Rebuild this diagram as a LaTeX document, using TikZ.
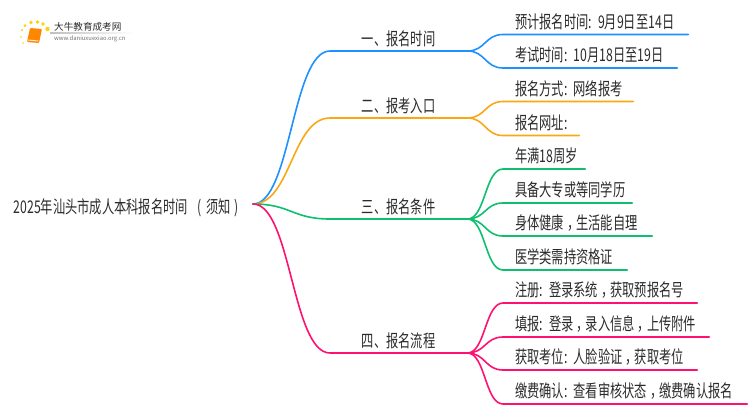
\documentclass[tikz,border=0pt]{standalone}
\usepackage{fontspec}
\setmainfont{Noto Sans CJK SC}
\newfontfamily\narrowcjk[FakeStretch=0.7, RawFeature={-chws;-halt;-palt}]{Noto Sans CJK SC}
\usetikzlibrary{calc}

\definecolor{branchblue}{HTML}{1E90FF}
\definecolor{branchorange}{HTML}{F9A814}
\definecolor{branchgreen}{HTML}{0DBF6E}
\definecolor{branchpink}{HTML}{FF1170}
\definecolor{labeltext}{HTML}{2B2B2B}
\newcommand{\shiftcomma}{\hspace{3pt}，\hspace{-3pt}}
\newcommand{\colongap}{:\hspace{6pt}}

\tikzset{
    rootnode/.style={font=\narrowcjk\fontsize{17.5}{17.5}\selectfont, text=labeltext, inner sep=0pt, text width=239pt, align=left, text height=18pt, text depth=0pt, anchor=east},
    midnode/.style={font=\narrowcjk\fontsize{17.5}{17.5}\selectfont, text=labeltext, inner xsep=0pt, inner ysep=1pt, minimum width=137pt, text height=14pt, text depth=4.5pt, anchor=south west},
    leafnode/.style={font=\narrowcjk\fontsize{17.5}{17.5}\selectfont, text=labeltext, inner xsep=0pt, inner ysep=1pt, align=left, text height=14pt, text depth=5pt, anchor=south west},
    bigcurve/.style={out=0, in=180, distance=38pt},
    smallcurve/.style={out=0, in=180, distance=18pt},
    branchline/.style={line width=1.6pt, line cap=round},
}

\begin{document}
\begin{tikzpicture}[x=1pt,y=-1pt]
    \useasboundingbox (0,0) rectangle (750,410);
    % logo
    \shade[left color=black!25, right color=white] (50,32.6) rectangle (134,33.6);
    \node[font=\fontsize{9.6}{10}\selectfont, text=labeltext, inner sep=0pt, anchor=west] (logoname) at (54,27) {大牛教育成考网};
    \node[font=\fontsize{5.9}{6}\selectfont, text=black!55, inner sep=0pt, anchor=west] (logourl) at (54,39) {www.daniuxuexiao.org.cn};
    \fill[orange!95!yellow, rounded corners=1pt] (30,28) -- (42,29) -- (39,43) -- (27,42) -- cycle;
    \fill[white!80!orange] (28.5,39.5) -- (38.5,40.5) -- (38,41.5) -- (28,40.5) -- cycle;
    \foreach \dotx/\doty/\dotr in {22/30/1.2, 25/25.5/1.5, 31/22.5/1.9, 37.5/22/1.9, 43/24/1.9, 47.5/29/2.2, 21/37/0.9, 23/43/0.8}
        \fill[yellow!70!orange] (\dotx,\doty) circle (\dotr);

    \node[rootnode] (root) at (253,204) {2025年汕头市成人本科报名时间\hspace{10pt}(\hspace{4pt}须知\hspace{4pt})};

    \node[midnode] (time) at (330,51) {一、报名时间};
    \node[midnode] (entry) at (330,118) {二、报考入口};
    \node[midnode] (cond) at (330,219) {三、报名条件};
    \node[midnode] (flow) at (330,353) {四、报名流程};

    \node[leafnode, text width=173pt] (time1) at (515,34.5) {预计报名时间\colongap 9月9日至14日};
    \node[leafnode, text width=162pt] (time2) at (515,68) {考试时间\colongap 10月18日至19日};
    \node[leafnode, text width=118pt] (entry1) at (515,101.5) {报名方式\colongap 网络报考};
    \node[leafnode, text width=64pt] (entry2) at (515,135.5) {报名网址:};
    \node[leafnode, text width=70pt] (cond1) at (515,169) {年满18周岁};
    \node[leafnode, text width=117pt] (cond2) at (515,203) {具备大专或等同学历};
    \node[leafnode, text width=137pt] (cond3) at (515,236) {身体健康\shiftcomma 生活能自理};
    \node[leafnode, text width=112pt] (cond4) at (515,270) {医学类需持资格证};
    \node[leafnode, text width=182pt] (flow1) at (515,303) {注册\colongap 登录系统\shiftcomma 获取预报名号};
    \node[leafnode, text width=194pt] (flow2) at (515,337) {填报\colongap 登录\shiftcomma 录入信息\shiftcomma 上传附件};
    \node[leafnode, text width=182pt] (flow3) at (515,370) {获取考位\colongap 人脸验证\shiftcomma 获取考位};
    \node[leafnode, text width=232pt] (flow4) at (515,404) {缴费确认\colongap 查看审核状态\shiftcomma 缴费确认报名};

    \draw[branchline, branchblue] (root.east) to[bigcurve] (time.south west) -- (time.south east);
    \draw[branchline, branchorange] (root.east) to[bigcurve] (entry.south west) -- (entry.south east);
    \draw[branchline, branchgreen] (root.east) to[bigcurve] (cond.south west) -- (cond.south east);
    \draw[branchline, branchpink] (root.east) to[bigcurve] (flow.south west) -- (flow.south east);

    \draw[branchline, branchblue] (time.south east) to[smallcurve] ([xshift=-12pt]time1.south west) -- (time1.south east);
    \draw[branchline, branchblue] (time.south east) to[smallcurve] ([xshift=-12pt]time2.south west) -- (time2.south east);
    \draw[branchline, branchorange] (entry.south east) to[smallcurve] ([xshift=-12pt]entry1.south west) -- (entry1.south east);
    \draw[branchline, branchorange] (entry.south east) to[smallcurve] ([xshift=-12pt]entry2.south west) -- (entry2.south east);
    \draw[branchline, branchgreen] (cond.south east) to[smallcurve] ([xshift=-12pt]cond1.south west) -- (cond1.south east);
    \draw[branchline, branchgreen] (cond.south east) to[smallcurve] ([xshift=-12pt]cond2.south west) -- (cond2.south east);
    \draw[branchline, branchgreen] (cond.south east) to[smallcurve] ([xshift=-12pt]cond3.south west) -- (cond3.south east);
    \draw[branchline, branchgreen] (cond.south east) to[smallcurve] ([xshift=-12pt]cond4.south west) -- (cond4.south east);
    \draw[branchline, branchpink] (flow.south east) to[smallcurve] ([xshift=-12pt]flow1.south west) -- (flow1.south east);
    \draw[branchline, branchpink] (flow.south east) to[smallcurve] ([xshift=-12pt]flow2.south west) -- (flow2.south east);
    \draw[branchline, branchpink] (flow.south east) to[smallcurve] ([xshift=-12pt]flow3.south west) -- (flow3.south east);
    \draw[branchline, branchpink] (flow.south east) to[smallcurve] ([xshift=-12pt]flow4.south west) -- (flow4.south east);
\end{tikzpicture}
\end{document}
